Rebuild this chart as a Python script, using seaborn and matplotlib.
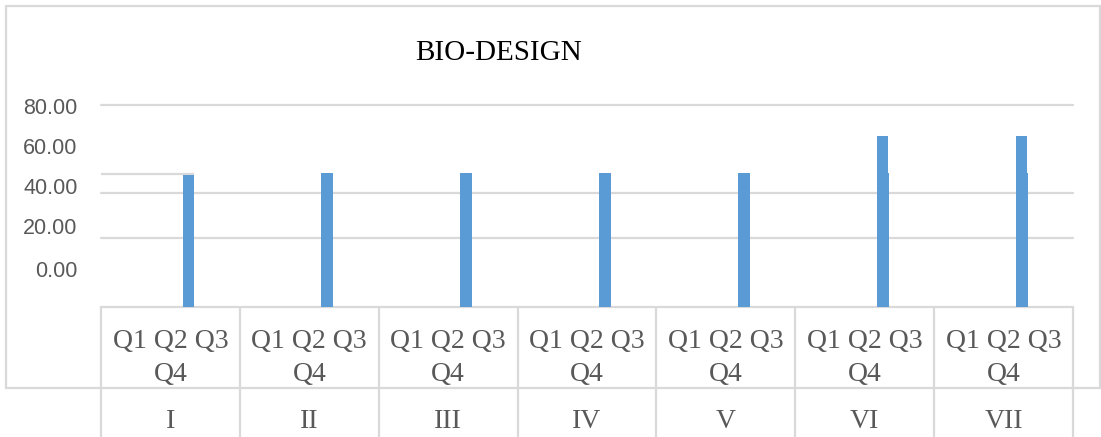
import numpy as np
import pandas as pd
import matplotlib
matplotlib.use("Agg")
import matplotlib.pyplot as plt
import matplotlib.transforms as mtransforms
from matplotlib.lines import Line2D
import seaborn as sns

# ---- data ----
periods = ["I", "II", "III", "IV", "V", "VI", "VII"]
quarter_label = "Q1 Q2 Q3\nQ4"
bio_design = [52.2, 53.0, 53.0, 53.0, 53.0, 53.1, 53.1]
bio_design_peak = [np.nan, np.nan, np.nan, np.nan, np.nan, 67.6, 67.6]
ytick_labels = ["80.00", "60.00", "40.00", "20.00", "0.00"]
title = "BIO-DESIGN"

sns.set_style("white")
plt.rcParams["font.family"] = ["Liberation Sans", "DejaVu Sans"]

W, H = 1101, 437
fig = plt.figure(figsize=(W / 100, H / 100), dpi=100)
fig.patch.set_facecolor("white")

def fx(px):
    return px / W

def fy(py):
    return 1 - py / H

base_px, top_px = 306.7, 104.7
left_px, right_px = 101, 1073
ax = fig.add_axes([fx(left_px), fy(base_px), (right_px - left_px) / W, (base_px - top_px) / H])

GRID = "#D9D9D9"
BAR = "#5B9BD5"
TXT = "#595959"

offset = 0.13
xpos = np.arange(len(periods)) + offset
df = pd.DataFrame({"x": xpos, "val": bio_design, "peak": bio_design_peak})

sns.barplot(data=df, x="x", y="val", native_scale=True, width=0.086,
            color=BAR, saturation=1, linewidth=0, errorbar=None, ax=ax, zorder=3)
dpk = df.dropna(subset=["peak"])
sns.barplot(data=dpk, x="x", y="peak", native_scale=True, width=0.08,
            color=BAR, saturation=1, linewidth=0, errorbar=None, ax=ax, zorder=3)

ax.set_xlim(-0.5, len(periods) - 0.5)
ax.set_ylim(0, 80)
ax.set_xlabel("")
ax.set_ylabel("")

# gridlines (as rendered in the reference)
pxu = (base_px - top_px) / 80.0
for gy_px in [104.7, 193.0, 237.7]:
    ax.axhline((base_px - gy_px) / pxu, color=GRID, lw=1.6, zorder=1, clip_on=False)
ax.hlines((base_px - 174.3) / pxu, -0.5, offset + 0.043, color=GRID, lw=1.6, zorder=1)

# y labels
ytick_px = [106, 146, 186, 226, 269]
ax.set_yticks([(base_px - p) / pxu for p in ytick_px])
ax.set_yticklabels(ytick_labels, color=TXT, fontsize=15.5)
ax.tick_params(axis="y", length=0, pad=17)

# x labels
ax.set_xticks([])
for s in ["top", "right", "left"]:
    ax.spines[s].set_visible(False)
ax.spines["bottom"].set_color(GRID)
ax.spines["bottom"].set_linewidth(1.6)

trans = mtransforms.blended_transform_factory(ax.transData, ax.transAxes)
ax_h = base_px - top_px

def ay(py):
    return (base_px - py) / ax_h

for i, p in enumerate(periods):
    ax.text(i, ay(358), quarter_label, transform=trans, ha="center", va="center",
            fontsize=20, color=TXT, family="Liberation Serif", linespacing=1.38,
            clip_on=False)
    ax.text(i, ay(421.5), p, transform=trans, ha="center", va="center",
            fontsize=20, color=TXT, family="Liberation Serif", clip_on=False)

ax.vlines(np.arange(len(periods) + 1) - 0.5, ay(437), 0, transform=trans,
          color=GRID, lw=1.6, clip_on=False)

# outer frame
def fline(x0, y0, x1, y1):
    fig.add_artist(Line2D([fx(x0), fx(x1)], [fy(y0), fy(y1)], transform=fig.transFigure,
                          color=GRID, lw=1.6))

fline(6.5, 5.5, 1101, 5.5)
fline(6.5, 5.5, 6.5, 388.3)
fline(1100, 5.5, 1100, 388.3)
fline(6.5, 388.3, 1101, 388.3)

fig.text(fx(499), fy(52.5), title, ha="center", va="center", fontsize=21,
         color="black", family="Liberation Serif")

fig.savefig("out.png", dpi=100, facecolor="white")
